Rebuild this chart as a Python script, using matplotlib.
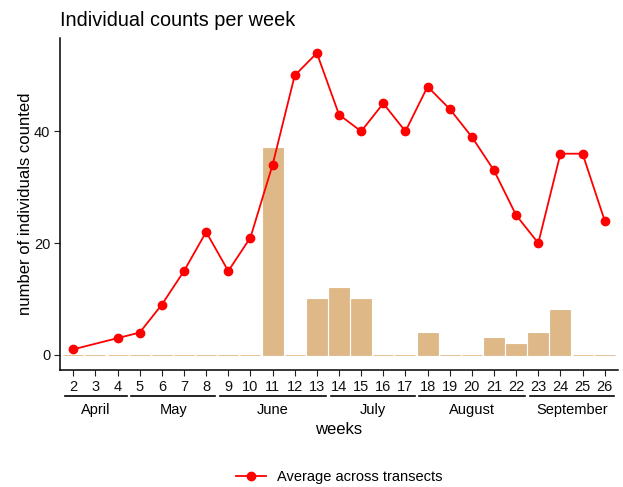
import matplotlib
matplotlib.use("Agg")
import matplotlib.pyplot as plt
import matplotlib.transforms as mtransforms
from matplotlib.lines import Line2D
import numpy as np

plt.rcParams['font.family'] = ['Liberation Sans', 'DejaVu Sans']

weeks = [2, 3, 4, 5, 6, 7, 8, 9, 10, 11, 12, 13, 14, 15, 16, 17, 18, 19, 20, 21, 22, 23, 24, 25, 26]
bar_counts = [0, 0, 0, 0, 0, 0, 0, 0, 0, 37, 0, 10, 12, 10, 0, 0, 4, 0, 0, 3, 2, 4, 8, 0, 0]
avg_weeks = [2, 4, 5, 6, 7, 8, 9, 10, 11, 12, 13, 14, 15, 16, 17, 18, 19, 20, 21, 22, 23, 24, 25, 26]
avg_values = [1, 3, 4, 9, 15, 22, 15, 21, 34, 50, 54, 43, 40, 45, 40, 48, 44, 39, 33, 25, 20, 36, 36, 24]
months = ["April", "May", "June", "July", "August", "September"]
month_first = [2, 5, 9, 14, 18, 23]
month_last = [4, 8, 13, 17, 22, 26]

W, H = 623, 487
fig = plt.figure(figsize=(W / 100, H / 100), dpi=100)
ax = fig.add_axes([60 / W, 1 - 370 / H, (618 - 60) / W, (370 - 38) / H])

pos = {w: i for i, w in enumerate(weeks)}
x = np.arange(len(weeks))
ax.bar(x, bar_counts, width=0.9, color="#DEB887", edgecolor="#DEB887", linewidth=0.6, zorder=1)
ax.plot([pos[w] for w in avg_weeks], avg_values, color="red", linewidth=1.3, marker="o",
        markersize=6, zorder=3, label="Average across transects")

ax.set_xlim(-0.6, len(weeks) - 1 + 0.6)
ax.set_ylim(-2.7, 56.7)
ax.set_yticks([0, 20, 40])
ax.set_xticks(x)
ax.set_xticklabels([str(w) for w in weeks])
for s in ["top", "right"]:
    ax.spines[s].set_visible(False)
for s in ["left", "bottom"]:
    ax.spines[s].set_linewidth(1.1)
ax.tick_params(axis="both", labelsize=10.5, length=4, width=0.8, color="#222222", labelcolor="#111111", pad=3)

ax.set_title("Individual counts per week", loc="left", fontsize=14.3, x=0.0, pad=9)
ax.set_ylabel("number of individuals counted", fontsize=12, labelpad=1)

trans = mtransforms.blended_transform_factory(ax.transData, fig.transFigure)
for m, a, b in zip(months, month_first, month_last):
    x0 = pos[a] - 0.38
    x1 = pos[b] + 0.42
    fig.add_artist(Line2D([x0, x1], [1 - 396 / H] * 2, transform=trans, color="black", linewidth=1.2))
    fig.text((x0 + x1) / 2, 1 - 410 / H, m, transform=trans, ha="center", va="center", fontsize=10.5)

fig.text((60 + 618) / 2 / W, 1 - 429 / H, "weeks", ha="center", va="center", fontsize=12)

handles, labels = ax.get_legend_handles_labels()
fig.legend(handles, labels, loc="center", bbox_to_anchor=(0.545, 1 - 477 / H), frameon=False,
           fontsize=10.5, handlelength=2)

fig.savefig("out.png", dpi=100)
